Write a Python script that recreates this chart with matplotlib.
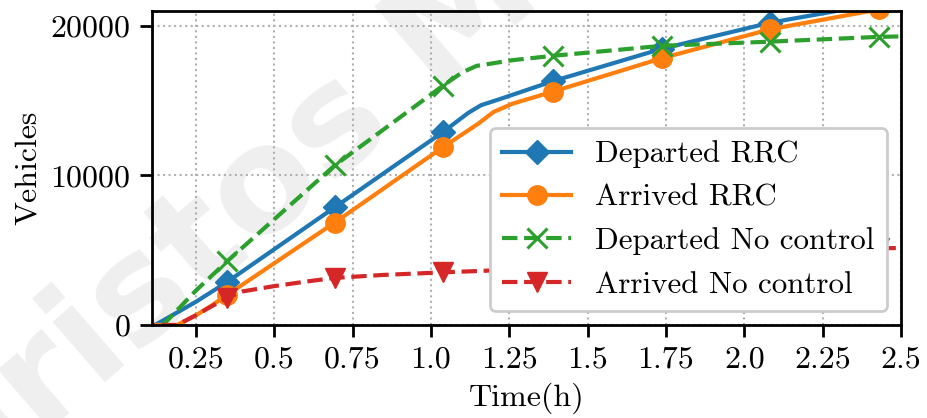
import numpy as np
import matplotlib
matplotlib.use("Agg")
import matplotlib.pyplot as plt
from matplotlib.textpath import TextPath
from matplotlib.font_manager import FontProperties

plt.rcParams['font.family'] = ['cmr10', 'DejaVu Serif']
plt.rcParams['mathtext.fontset'] = 'cm'
plt.rcParams['axes.formatter.use_mathtext'] = True

# ---- data ----
marker_times = [0.349, 0.693, 1.038, 1.388, 1.736, 2.083, 2.428]

t_dep_rrc = [0.0, 0.12, 0.25, 0.349, 0.693, 1.038, 1.12, 1.16, 1.22, 1.388, 1.736, 2.083, 2.428, 2.5]
v_dep_rrc = [0, 0, 1550, 2870, 7870, 12900, 14200, 14700, 15110, 16300, 18470, 20220, 21500, 21750]

t_arr_rrc = [0.0, 0.19, 0.25, 0.30, 0.349, 0.693, 1.038, 1.15, 1.20, 1.26, 1.388, 1.736, 2.083, 2.428, 2.5]
v_arr_rrc = [0, 0, 650, 1300, 2000, 6850, 11890, 13450, 14250, 14800, 15600, 17840, 19780, 21100, 21380]

t_dep_nc = [0.0, 0.145, 0.25, 0.349, 0.693, 1.038, 1.10, 1.146, 1.26, 1.388, 1.736, 2.083, 2.428, 2.5]
v_dep_nc = [0, 0, 2300, 4250, 10670, 16000, 16900, 17330, 17710, 18000, 18670, 18950, 19270, 19300]

t_arr_nc = [0.0, 0.19, 0.25, 0.30, 0.349, 0.40, 0.50, 0.60, 0.693, 0.85, 1.038, 1.20, 1.388, 1.736, 2.083, 2.428, 2.5]
v_arr_nc = [0, 0, 650, 1250, 1800, 2250, 2600, 2900, 3150, 3350, 3520, 3650, 3950, 4400, 4800, 5130, 5150]

labels = ["Departed RRC", "Arrived RRC", "Departed No control", "Arrived No control"]
xticks = [0.25, 0.5, 0.75, 1.0, 1.25, 1.5, 1.75, 2.0, 2.25, 2.5]
xtick_labels = ["0.25", "0.5", "0.75", "1.0", "1.25", "1.5", "1.75", "2.0", "2.25", "2.5"]
yticks = [0, 10000, 20000]
watermark = "Christos Mavridis"

FS = 23
LFS = 22.3
W, H, DPI = 9.28, 4.18, 100

fig = plt.figure(figsize=(W, H), dpi=DPI)

# watermark: place so that the "o" of "tos" is centred near pixel (265, 190)
wm_size = 106
wm_angle = 41
fp = FontProperties(family='DejaVu Sans', weight='bold', size=wm_size)
pre = TextPath((0, 0), "Christ", prop=fp).get_extents()
ob = TextPath((0, 0), "o", prop=fp).get_extents()
pre_w = TextPath((0, 0), "Christo", prop=fp).get_extents().x1 - ob.width / 2
s = DPI / 72.0
along = (pre_w) * s
perp = (ob.y0 + ob.y1) / 2 * s
th = np.deg2rad(wm_angle)
cx, cy = 265, H * DPI - 190
ax0 = cx - (along * np.cos(th) - perp * np.sin(th))
ay0 = cy - (along * np.sin(th) + perp * np.cos(th))
fig.text(ax0 / (W * DPI), ay0 / (H * DPI), watermark, rotation=wm_angle,
         rotation_mode='anchor', fontproperties=fp, color='#efefef',
         ha='left', va='baseline', zorder=-5)

ax = fig.add_axes([0.1638, 0.2225, 0.8072, 0.7512])
ax.patch.set_alpha(0)


def mk(t):
    return [i for i, v in enumerate(t) if any(abs(v - m) < 1e-9 for m in marker_times)]


ax.plot(t_dep_rrc, v_dep_rrc, '-', color='#1f77b4', lw=3, marker='D', ms=12,
        markevery=mk(t_dep_rrc), label=labels[0])
ax.plot(t_arr_rrc, v_arr_rrc, '-', color='#ff7f0e', lw=3, marker='o', ms=14,
        markevery=mk(t_arr_rrc), label=labels[1])
ax.plot(t_dep_nc, v_dep_nc, '--', color='#2ca02c', lw=3, marker='x', ms=14, mew=2.2,
        markevery=mk(t_dep_nc), label=labels[2])
ax.plot(t_arr_nc, v_arr_nc, '--', color='#d62728', lw=3, marker='v', ms=14,
        markevery=mk(t_arr_nc), label=labels[3])

ax.set_xlim(0.11, 2.5)
ax.set_ylim(0, 21000)
ax.set_xticks(xticks)
ax.set_xticklabels(xtick_labels)
ax.set_yticks(yticks)
ax.grid(True, linestyle=':', color='#b0b0b0', lw=1.5)
ax.tick_params(labelsize=FS, width=2, length=8.5, pad=7)
for sp in ax.spines.values():
    sp.set_linewidth(2)
ax.set_xlabel("Time(h)", fontsize=FS, labelpad=6)
ax.set_ylabel("Vehicles", fontsize=FS, labelpad=6)
leg = ax.legend(loc='lower right', fontsize=LFS, handlelength=2.2, framealpha=1.0,
                borderaxespad=0.45)
leg.get_frame().set_linewidth(2)

fig.savefig("out.png", dpi=DPI)
